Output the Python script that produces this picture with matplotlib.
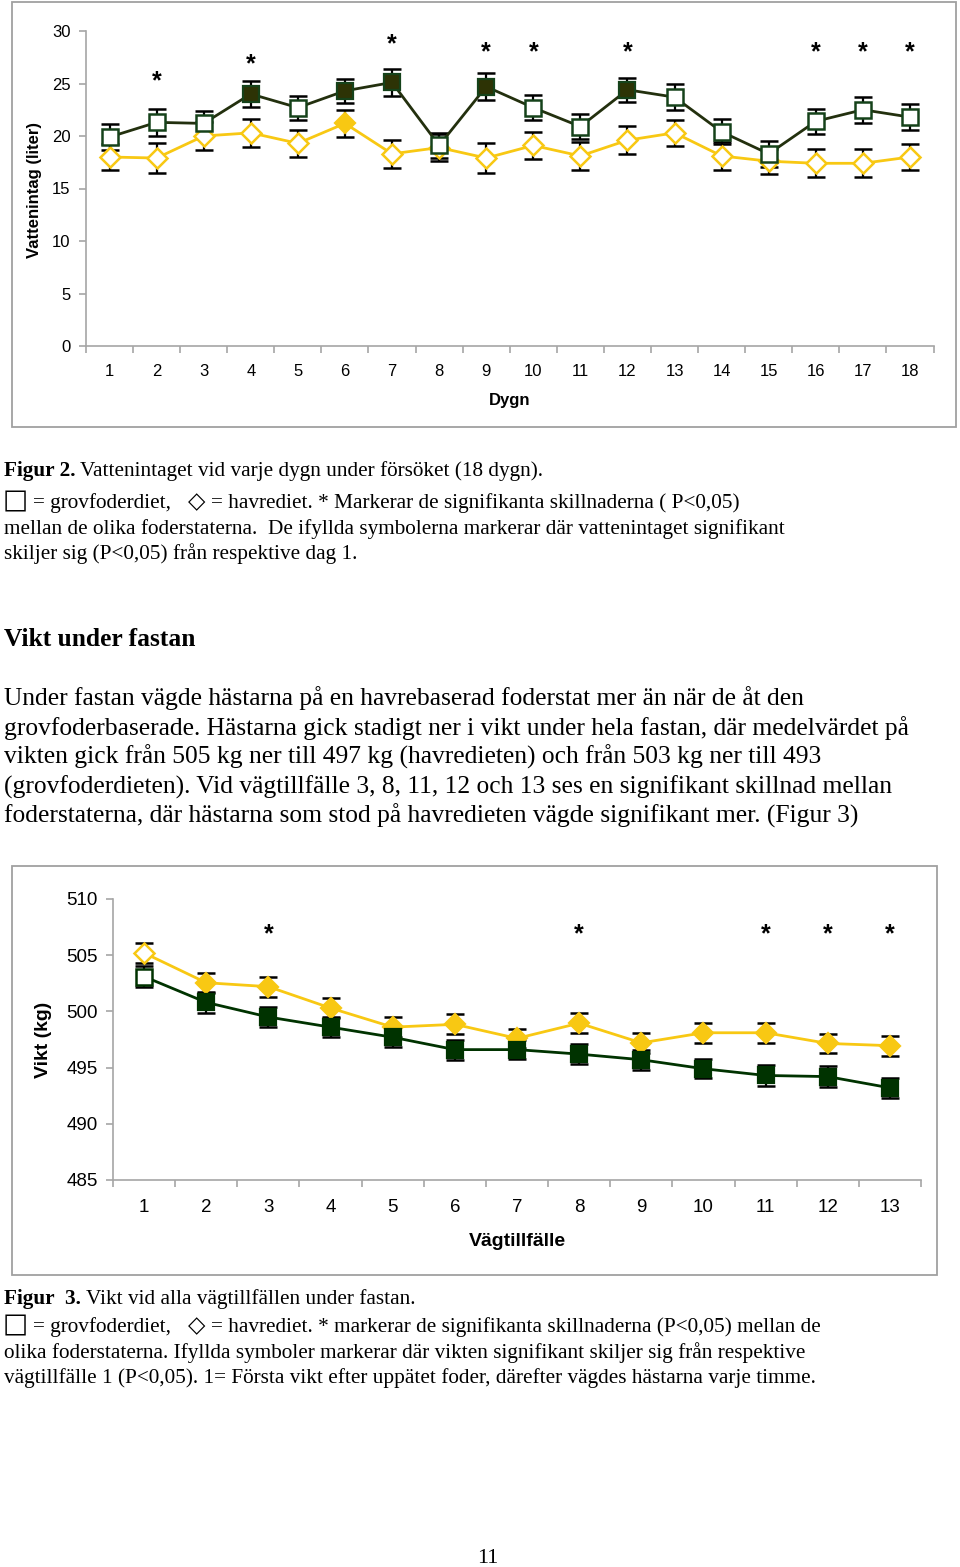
import numpy as np
import matplotlib
matplotlib.use("Agg")
import matplotlib.pyplot as plt
from matplotlib.patches import Rectangle
from matplotlib.transforms import offset_copy

# --- Figur 2: water intake per day ---
days = list(range(1, 19))
grov_water = [19.9, 21.3, 21.2, 24.0, 22.7, 24.3, 25.1, 19.1, 24.7, 22.7,
              20.9, 24.4, 23.7, 20.4, 18.3, 21.4, 22.5, 21.8]
grov_water_err = [1.25, 1.3, 1.2, 1.25, 1.15, 1.15, 1.3, 1.15, 1.3, 1.2,
                  1.2, 1.15, 1.25, 1.2, 1.25, 1.2, 1.25, 1.25]
havre_water = [18.0, 17.9, 20.0, 20.3, 19.3, 21.2, 18.3, 18.9, 17.9, 19.1,
               18.1, 19.6, 20.3, 18.1, 17.6, 17.4, 17.4, 18.0]
havre_water_err = [1.25, 1.4, 1.3, 1.3, 1.3, 1.25, 1.3, 1.3, 1.4, 1.3,
                   1.3, 1.35, 1.25, 1.3, 1.2, 1.35, 1.35, 1.25]
grov_water_filled = [4, 6, 7, 9, 12]
havre_water_filled = [6]
water_sig_days = [2, 4, 7, 9, 10, 12, 16, 17, 18]
water_star_y = [25.6, 27.2, 29.1, 28.4, 28.4, 28.4, 28.4, 28.4, 28.4]

# --- Figur 3: weight during fasting ---
weighings = list(range(1, 14))
havre_wt = [505.2, 502.55, 502.2, 500.3, 498.6, 498.85, 497.6, 498.95,
            497.2, 498.1, 498.1, 497.15, 496.95]
havre_wt_err = [0.85, 0.9, 0.9, 0.9, 0.9, 0.9, 0.85, 0.9, 0.9, 0.9, 0.9, 0.85, 0.9]
grov_wt = [503.1, 500.8, 499.5, 498.6, 497.7, 496.6, 496.6, 496.2,
           495.7, 494.9, 494.3, 494.2, 493.2]
grov_wt_err = [0.9, 0.9, 0.9, 0.9, 0.9, 0.9, 0.85, 0.9, 0.9, 0.85, 0.9, 0.9, 0.9]
wt_open = [1]
wt_sig = [3, 8, 11, 12, 13]
wt_star_y = [507.2] * len(wt_sig)

W, H = 960, 1567
fig = plt.figure(figsize=(W / 100, H / 100), dpi=100)
plt.rcParams['font.family'] = ['Liberation Sans', 'DejaVu Sans']
SERIF = ['Liberation Serif', 'DejaVu Serif', 'DejaVu Sans']
AXIS_GREY = '#a6a6a6'
YELLOW = '#F8C813'


def fx(px):
    return px / W


def fy(py):
    return 1 - py / H


def frame(x0, y0, x1, y1):
    fig.patches.append(Rectangle((fx(x0), fy(y1)), fx(x1) - fx(x0), fy(y0) - fy(y1),
                                 transform=fig.transFigure, fill=False,
                                 edgecolor='#a0a0a0', lw=1.3))


def style_axes(ax, n, label_pad, fs):
    for s in ['top', 'right']:
        ax.spines[s].set_visible(False)
    for s in ['left', 'bottom']:
        ax.spines[s].set_color(AXIS_GREY)
        ax.spines[s].set_linewidth(1.2)
    ax.set_xlim(0.5, n + 0.5)
    ax.set_xticks(np.arange(0.5, n + 1, 1.0))
    ax.set_xticklabels([])
    ax.set_xticks(np.arange(1, n + 1), minor=True)
    ax.set_xticklabels([str(i) for i in range(1, n + 1)], minor=True)
    ax.tick_params(axis='x', which='major', length=5, color=AXIS_GREY, width=1.2)
    ax.tick_params(axis='x', which='minor', length=0, pad=label_pad, labelsize=fs)
    ax.tick_params(axis='y', length=5, color=AXIS_GREY, width=1.2, pad=6, labelsize=fs)


def draw_series(ax, x, y, err, line_color, marker, ms, filled_mask, fill_color,
                edge_color, z):
    x = np.array(x)
    y = np.array(y)
    ax.errorbar(x, y, yerr=err, fmt='none', ecolor='black', elinewidth=1.6,
                capsize=6.5, capthick=1.8, zorder=2)
    ax.plot(x, y, color=line_color, lw=2.0, zorder=z)
    m = np.array(filled_mask)
    ax.plot(x[m], y[m], ls='none', marker=marker, ms=ms, mfc=fill_color,
            mec=edge_color, mew=1.6, zorder=z + 0.5)
    ax.plot(x[~m], y[~m], ls='none', marker=marker, ms=ms, mfc='white',
            mec=edge_color, mew=1.8, zorder=z + 0.5)


def stars(ax, xs, ys):
    tr = offset_copy(ax.transData, fig=fig, x=0, y=-3, units='points')
    for x, y in zip(xs, ys):
        ax.text(x, y, '*', ha='center', va='center', fontsize=18, fontweight='bold',
                transform=tr)


# ---------------- chart 1 ----------------
frame(12, 2, 956, 427)
ax1 = fig.add_axes([fx(86), fy(346), fx(933.5) - fx(86), fy(31) - fy(346)])
ax1.set_ylim(0, 30)
ax1.set_yticks(range(0, 31, 5))
style_axes(ax1, 18, 13, 12)
draw_series(ax1, days, havre_water, havre_water_err, YELLOW, 'D', 10.5,
            [d in havre_water_filled for d in days], YELLOW, YELLOW, 3)
draw_series(ax1, days, grov_water, grov_water_err, '#23300e', 's', 11,
            [d in grov_water_filled for d in days], '#2d3305', '#15421a', 4)
stars(ax1, water_sig_days, water_star_y)
fig.text(fx(35), fy(190), 'Vattenintag (liter)', rotation=90, ha='center', va='center',
         fontsize=12, fontweight='bold')
fig.text(fx(510), fy(401), 'Dygn', ha='center', va='center', fontsize=12,
         fontweight='bold')

# ---------------- chart 2 ----------------
frame(12, 866, 937, 1275)
ax2 = fig.add_axes([fx(113), fy(1180), fx(921) - fx(113), fy(899) - fy(1180)])
ax2.set_ylim(485, 510)
ax2.set_yticks(range(485, 511, 5))
style_axes(ax2, 13, 14, 13.5)
draw_series(ax2, weighings, havre_wt, havre_wt_err, YELLOW, 'D', 10.5,
            [w not in wt_open for w in weighings], YELLOW, YELLOW, 3)
draw_series(ax2, weighings, grov_wt, grov_wt_err, '#003300', 's', 11,
            [w not in wt_open for w in weighings], '#003300', '#003300', 4)
stars(ax2, wt_sig, wt_star_y)
fig.text(fx(44), fy(1040), 'Vikt (kg)', rotation=90, ha='center', va='center',
         fontsize=14, fontweight='bold')
fig.text(fx(517), fy(1241), 'Vägtillfälle', ha='center', va='center', fontsize=14,
         fontweight='bold')

# ---------------- page text ----------------
renderer = fig.canvas.get_renderer()


def rich(x_px, base_px, parts, size):
    x = x_px
    for txt, weight in parts:
        t = fig.text(fx(x), fy(base_px), txt, ha='left', va='baseline', fontsize=size,
                     fontweight=weight, family=SERIF)
        bb = t.get_window_extent(renderer)
        x = bb.x1 + 5


def caption_line(base_px, sq_rest, dia_rest, size):
    # the square and diamond symbols are drawn a bit larger than the text
    fig.text(fx(3), fy(base_px), '\u25a1', ha='left', va='baseline', fontsize=size + 4,
             family=['DejaVu Sans'])
    fig.text(fx(33), fy(base_px), sq_rest, ha='left', va='baseline', fontsize=size,
             family=SERIF)
    fig.text(fx(188), fy(base_px), '\u25c7', ha='left', va='baseline', fontsize=size + 1,
             family=['DejaVu Sans'])
    fig.text(fx(211), fy(base_px), dia_rest, ha='left', va='baseline', fontsize=size,
             family=SERIF)


CAP = 15.3
rich(4, 476, [('Figur 2.', 'bold'), ('Vattenintaget vid varje dygn under försöket (18 dygn).', 'normal')], CAP)
caption_line(508, '= grovfoderdiet,',
             '= havrediet. * Markerar de signifikanta skillnaderna ( P<0,05)', CAP)
cap2 = ['mellan de olika foderstaterna.  De ifyllda symbolerna markerar där vattenintaget signifikant',
        'skiljer sig (P<0,05) från respektive dag 1.']
for i, line in enumerate(cap2):
    fig.text(fx(4), fy(534 + 25.5 * i), line, ha='left', va='baseline', fontsize=CAP, family=SERIF)

BODY = 18.4
fig.text(fx(4), fy(646), 'Vikt under fastan', ha='left', va='baseline', fontsize=BODY,
         fontweight='bold', family=SERIF)
body = ['Under fastan vägde hästarna på en havrebaserad foderstat mer än när de åt den',
        'grovfoderbaserade. Hästarna gick stadigt ner i vikt under hela fastan, där medelvärdet på',
        'vikten gick från 505 kg ner till 497 kg (havredieten) och från 503 kg ner till 493',
        '(grovfoderdieten). Vid vägtillfälle 3, 8, 11, 12 och 13 ses en signifikant skillnad mellan',
        'foderstaterna, där hästarna som stod på havredieten vägde signifikant mer. (Figur 3)']
for i, line in enumerate(body):
    fig.text(fx(4), fy(705 + 29.5 * i), line, ha='left', va='baseline', fontsize=BODY, family=SERIF)

rich(4, 1304, [('Figur  3.', 'bold'), ('Vikt vid alla vägtillfällen under fastan.', 'normal')], CAP)
caption_line(1332, '= grovfoderdiet,',
             '= havrediet. * markerar de signifikanta skillnaderna (P<0,05) mellan de', CAP)
cap3 = ['olika foderstaterna. Ifyllda symboler markerar där vikten signifikant skiljer sig från respektive',
        'vägtillfälle 1 (P<0,05). 1= Första vikt efter uppätet foder, därefter vägdes hästarna varje timme.']
for i, line in enumerate(cap3):
    fig.text(fx(4), fy(1358 + 25.5 * i), line, ha='left', va='baseline', fontsize=CAP, family=SERIF)

fig.text(fx(488), fy(1563), '11', ha='center', va='baseline', fontsize=16, family=SERIF)

fig.savefig('out.png', dpi=100)
